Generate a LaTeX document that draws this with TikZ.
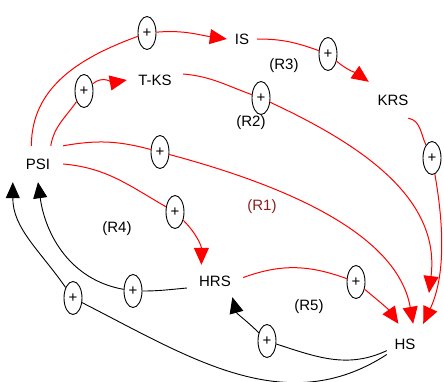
\documentclass[tikz,border=0pt]{standalone}
\usepackage{fontspec}
\setmainfont{Liberation Sans}
\usepackage{xcolor}
\usetikzlibrary{shapes.geometric, arrows.meta}
\definecolor{loopred}{RGB}{140,30,30}

\begin{document}
\begin{tikzpicture}[
        x=1pt, y=1pt,
        varnode/.style={rectangle, inner sep=0pt, align=center, font=\fontsize{15}{18}\selectfont},
        looplabel/.style={inner sep=0pt, font=\fontsize{15}{18}\selectfont},
        plusmark/.style={ellipse, draw, line width=0.9pt, inner sep=0pt, minimum width=18pt, minimum height=33pt, font=\fontsize{15}{18}\selectfont},
        redlink/.style={red, line width=1pt, -{Triangle[length=17pt,width=15pt]}},
        blacklink/.style={black, line width=0.9pt, -{Triangle[length=16pt,width=14pt]}}
    ]
    \useasboundingbox (0,0) rectangle (444,381);

    % variables
    \node (psi) [varnode, minimum width=50pt, minimum height=36pt] at (38,217) {PSI};
    \node (is) [varnode, minimum width=30pt, minimum height=20pt] at (242,342) {IS};
    \node (tks) [varnode, minimum width=56pt, minimum height=20pt] at (155,301) {T-KS};
    \node (krs) [varnode, minimum width=48pt, minimum height=36pt] at (393,281) {KRS};
    \node (hrs) [varnode, minimum width=56pt, minimum height=32pt] at (215,100) {HRS};
    \node (hs) [varnode, minimum width=36pt, minimum height=40pt] at (405,37) {HS};
    \coordinate (hs_top) at (429,88);

    % loop labels
    \node (r1) [looplabel, text=loopred] at (262,174) {(R1)};
    \node (r2) [looplabel] at (251,258) {(R2)};
    \node (r3) [looplabel] at (284,315) {(R3)};
    \node (r4) [looplabel] at (117,152) {(R4)};
    \node (r5) [looplabel] at (309,74) {(R5)};

    % polarity marks
    \node (p_is) [plusmark] at (147,348) {+};
    \node (p_tks) [plusmark] at (84,290) {+};
    \node (p_r1) [plusmark] at (160,229) {+};
    \node (p_hrs) [plusmark] at (175,169) {+};
    \node (p_r2) [plusmark] at (261,283) {+};
    \node (p_r3) [plusmark] at (328,327) {+};
    \node (p_krs) [plusmark] at (432,223) {+};
    \node (p_r5) [plusmark] at (356,99) {+};
    \node (p_r4) [plusmark] at (133,90) {+};
    \node (p_back) [plusmark] at (73,83) {+};
    \node (p_hs) [plusmark] at (267,40) {+};

    % red links
    \draw[redlink] (psi.110) to[out=90,in=200] (p_is) to[out=5,in=172] (is.west);
    \draw[redlink] (psi.55) to[out=80,in=235] (p_tks) to[out=40,in=190] (tks.west);
    \draw[redlink] (psi.north east) to[out=10,in=165] (p_r1) to[out=-15,in=100,looseness=0.85] (hs.68);
    \draw[redlink] (psi.east) to[out=-5,in=150] (p_hrs) to[out=-45,in=90] (hrs.130);
    \draw[redlink] (tks.12) to[out=-5,in=160] (p_r2) to[out=-25,in=83] (hs_top);
    \draw[redlink] (is.east) to[out=0,in=160] (p_r3) to[out=-40,in=145] (krs.north west);
    \draw[redlink] (krs.-50) to[out=-10,in=115] (p_krs) to[out=-80,in=65,looseness=0.9] (hs.north east);
    \draw[redlink] (hrs.7) to[out=20,in=160] (p_r5) to[out=-40,in=125] (hs.108);

    % black links
    \draw[blacklink] (hrs.-166) to[out=185,in=0] (p_r4) to[out=170,in=-82] (psi.south);
    \draw[blacklink] (hs.210) to[out=-147,in=-27] (p_back) to[out=125,in=-90] (psi.south west);
    \draw[blacklink] (hs.200) to[out=-155,in=-18] (p_hs) to[out=135,in=-75] (hrs.-43);
\end{tikzpicture}
\end{document}
